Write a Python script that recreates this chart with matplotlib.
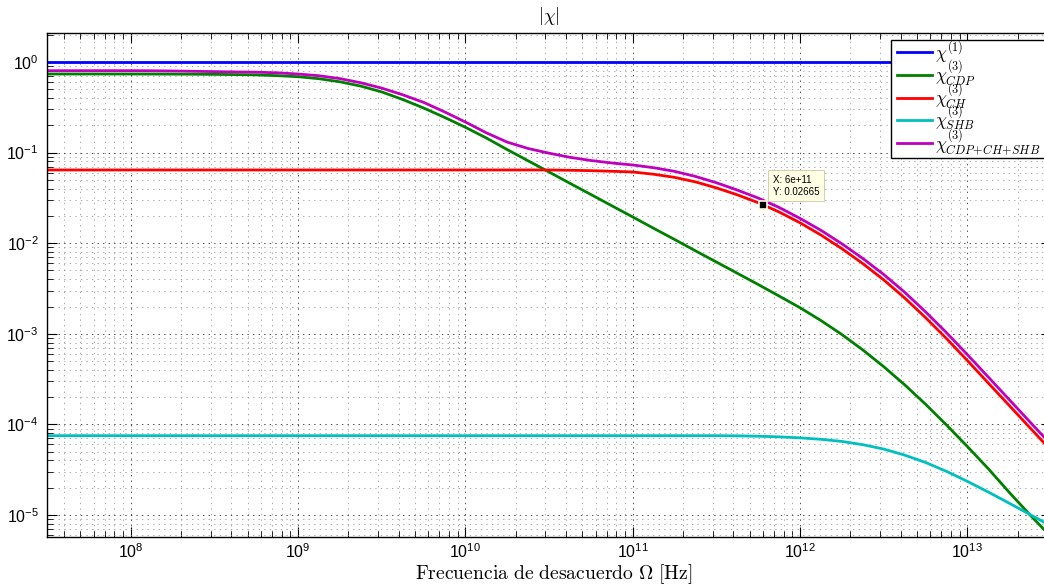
import matplotlib
matplotlib.use('Agg')
import matplotlib.pyplot as plt
from matplotlib.font_manager import FontProperties
from matplotlib.patches import Rectangle
from matplotlib.ticker import (FixedLocator, LogLocator, NullFormatter,
                               LogFormatterSciNotation)

plt.rcParams['font.family'] = ['Liberation Sans', 'DejaVu Sans']
plt.rcParams['lines.scale_dashes'] = False

# Detuning frequency Omega [Hz] (eighth-decade steps from 10^7.5 to 10^13.5)
freq = [3.162e7, 4.217e7, 5.623e7, 7.499e7,
        1.0e8, 1.334e8, 1.778e8, 2.371e8, 3.162e8, 4.217e8, 5.623e8, 7.499e8,
        1.0e9, 1.334e9, 1.778e9, 2.371e9, 3.162e9, 4.217e9, 5.623e9, 7.499e9,
        1.0e10, 1.334e10, 1.778e10, 2.371e10, 3.162e10, 4.217e10, 5.623e10, 7.499e10,
        1.0e11, 1.334e11, 1.778e11, 2.371e11, 3.162e11, 4.217e11, 5.623e11, 7.499e11,
        1.0e12, 1.334e12, 1.778e12, 2.371e12, 3.162e12, 4.217e12, 5.623e12, 7.499e12,
        1.0e13, 1.334e13, 1.778e13, 2.371e13, 3.162e13]

chi1 = [1.0, 1.0, 1.0, 1.0,
        1.0, 1.0, 1.0, 1.0, 1.0, 1.0, 1.0, 1.0,
        1.0, 1.0, 1.0, 1.0, 1.0, 1.0, 1.0, 1.0,
        1.0, 1.0, 1.0, 1.0, 1.0, 1.0, 1.0, 1.0,
        1.0, 1.0, 1.0, 1.0, 1.0, 1.0, 1.0, 1.0,
        1.0, 1.0, 1.0, 1.0, 1.0, 1.0, 1.0, 1.0,
        1.0, 1.0, 1.0, 1.0, 1.0]

chi3_cdp = [0.737, 0.737, 0.737, 0.737,
            0.737, 0.736, 0.735, 0.733, 0.730, 0.726, 0.720, 0.707,
            0.688, 0.654, 0.605, 0.542, 0.468, 0.386, 0.311, 0.245,
            0.1905, 0.145, 0.108, 0.0812, 0.0611, 0.0458, 0.0345, 0.0259,
            0.0195, 0.0146, 0.0110, 0.00824, 0.0062, 0.00466, 0.0035, 0.00261,
            0.00194, 0.00140, 9.82e-4, 6.64e-4, 4.34e-4, 2.74e-4, 1.67e-4, 9.86e-5,
            5.70e-5, 3.24e-5, 1.78e-5, 1.0e-5, 5.75e-6]

chi3_ch = [0.0643, 0.0643, 0.0643, 0.0643,
           0.0643, 0.0643, 0.0643, 0.0643, 0.0643, 0.0643, 0.0643, 0.0643,
           0.0643, 0.0643, 0.0643, 0.0643, 0.0643, 0.0643, 0.0643, 0.0643,
           0.0643, 0.0643, 0.0643, 0.0643, 0.0643, 0.0638, 0.0632, 0.0622,
           0.0611, 0.0577, 0.0533, 0.0475, 0.0408, 0.0342, 0.0280, 0.0221,
           0.0168, 0.0123, 0.00871, 0.00596, 0.00394, 0.00249, 0.00151, 8.87e-4,
           5.07e-4, 2.86e-4, 1.62e-4, 9.14e-5, 5.16e-5]

chi3_shb = [7.5e-5, 7.5e-5, 7.5e-5, 7.5e-5,
            7.5e-5, 7.5e-5, 7.5e-5, 7.5e-5, 7.5e-5, 7.5e-5, 7.5e-5, 7.5e-5,
            7.5e-5, 7.5e-5, 7.5e-5, 7.5e-5, 7.5e-5, 7.5e-5, 7.5e-5, 7.5e-5,
            7.5e-5, 7.5e-5, 7.5e-5, 7.5e-5, 7.5e-5, 7.5e-5, 7.5e-5, 7.5e-5,
            7.5e-5, 7.5e-5, 7.5e-5, 7.5e-5, 7.5e-5, 7.47e-5, 7.40e-5, 7.28e-5,
            7.10e-5, 6.84e-5, 6.48e-5, 5.97e-5, 5.34e-5, 4.58e-5, 3.80e-5, 3.03e-5,
            2.35e-5, 1.79e-5, 1.35e-5, 1.01e-5, 7.55e-6]

chi3_sum = [0.802, 0.802, 0.802, 0.802,
            0.802, 0.800, 0.796, 0.790, 0.783, 0.777, 0.772, 0.760,
            0.737, 0.705, 0.656, 0.590, 0.515, 0.435, 0.359, 0.282,
            0.2177, 0.1654, 0.1306, 0.1110, 0.0985, 0.0887, 0.0818, 0.0768,
            0.0730, 0.0681, 0.0621, 0.0546, 0.0465, 0.0386, 0.0315, 0.0248,
            0.0188, 0.01387, 0.00986, 0.00679, 0.00452, 0.00288, 0.00175, 1.03e-3,
            5.89e-4, 3.33e-4, 1.88e-4, 1.06e-4, 6.0e-5]

labels = [r'$\chi^{(1)}$', r'$\chi^{(3)}_{CDP}$', r'$\chi^{(3)}_{CH}$',
          r'$\chi^{(3)}_{SHB}$', r'$\chi^{(3)}_{CDP\!+\!CH\!+\!SHB}$']
colors = ['#0000FF', '#008000', '#FF0000', '#00BFBF', '#BF00BF']

x_ticks = [1e8, 1e9, 1e10, 1e11, 1e12, 1e13]
y_ticks = [1e-5, 1e-4, 1e-3, 1e-2, 1e-1, 1e0]

tip_x = 6e11
tip_y = 0.02665

W, H = 1044, 588
fig = plt.figure(figsize=(W / 100, H / 100), dpi=100)
ax = fig.add_axes([47 / W, 1 - 537 / H, (1051 - 47) / W, (537 - 33) / H])

series = [chi1, chi3_cdp, chi3_ch, chi3_shb, chi3_sum]
for ys, c, lab in zip(series, colors, labels):
    ax.plot(freq, ys, color=c, lw=2.0, label=lab, solid_joinstyle='round')

ax.set_xscale('log')
ax.set_yscale('log')
ax.set_xlim(10 ** 7.5, 10 ** 13.5)
ax.set_ylim(5.71e-6, 2.09)

for axis, tks in ((ax.xaxis, x_ticks), (ax.yaxis, y_ticks)):
    axis.set_major_locator(FixedLocator(tks))
    axis.set_major_formatter(LogFormatterSciNotation())
    axis.set_minor_locator(LogLocator(base=10, subs=range(2, 10), numticks=200))
    axis.set_minor_formatter(NullFormatter())

ax.grid(True, which='major', linestyle=(0, (1.0, 3.0)), color='#333333', lw=0.6)
ax.grid(True, which='minor', linestyle=(0, (1.0, 3.0)), color='#8c8c8c', lw=0.5)
ax.set_axisbelow(True)
ax.tick_params(which='both', direction='in', top=True, right=True, colors='black')
ax.tick_params(which='major', length=7, width=0.8, labelsize=11.5)
ax.tick_params(axis='x', which='major', pad=4)
ax.tick_params(axis='y', which='major', pad=6)
ax.tick_params(which='minor', length=4, width=0.6)
for s in ax.spines.values():
    s.set_linewidth(1.0)
    s.set_color('black')

ax.set_title(r'$|\chi|$', fontsize=13.5, math_fontfamily='cm', pad=8.5)
ax.set_xlabel(r'$\mathrm{Frecuencia\ de\ desacuerdo}\ \Omega\ \mathrm{[Hz]}$',
              fontsize=14.15, math_fontfamily='cm', labelpad=1)
ax.xaxis.label.set_x((554 - 47) / (1051 - 47))

# legend box (drawn separately so the entries can sit as tightly as the original)
ax.add_patch(Rectangle((891 / W, 1 - 158 / H), (1052 - 891) / W, 118 / H,
                       transform=fig.transFigure, facecolor='white',
                       edgecolor='black', lw=1.0, zorder=4.5, clip_on=False))
leg = ax.legend(loc='upper left', bbox_to_anchor=(897 / W, 1 - 39 / H),
                bbox_transform=fig.transFigure, borderaxespad=0, frameon=False,
                prop=FontProperties(size=12.5, math_fontfamily='cm'),
                handlelength=2.0, handletextpad=0.17, labelspacing=-0.38,
                borderpad=0.0)
leg.set_zorder(5)

ax.plot([tip_x], [tip_y], marker='s', ms=6, mfc='black', mec='#FFFFDD', mew=1.2,
        zorder=6, linestyle='none')
ax.annotate('X: 6e+11\nY: 0.02665', xy=(tip_x, tip_y), xytext=(10, 8),
            textcoords='offset pixels', fontsize=7, ha='left', va='bottom',
            linespacing=1.25,
            bbox=dict(boxstyle='square,pad=0.5', fc='#FFFFE6', ec='#CFCFB0', lw=0.7),
            zorder=7)

fig.savefig('out.png', dpi=100)
